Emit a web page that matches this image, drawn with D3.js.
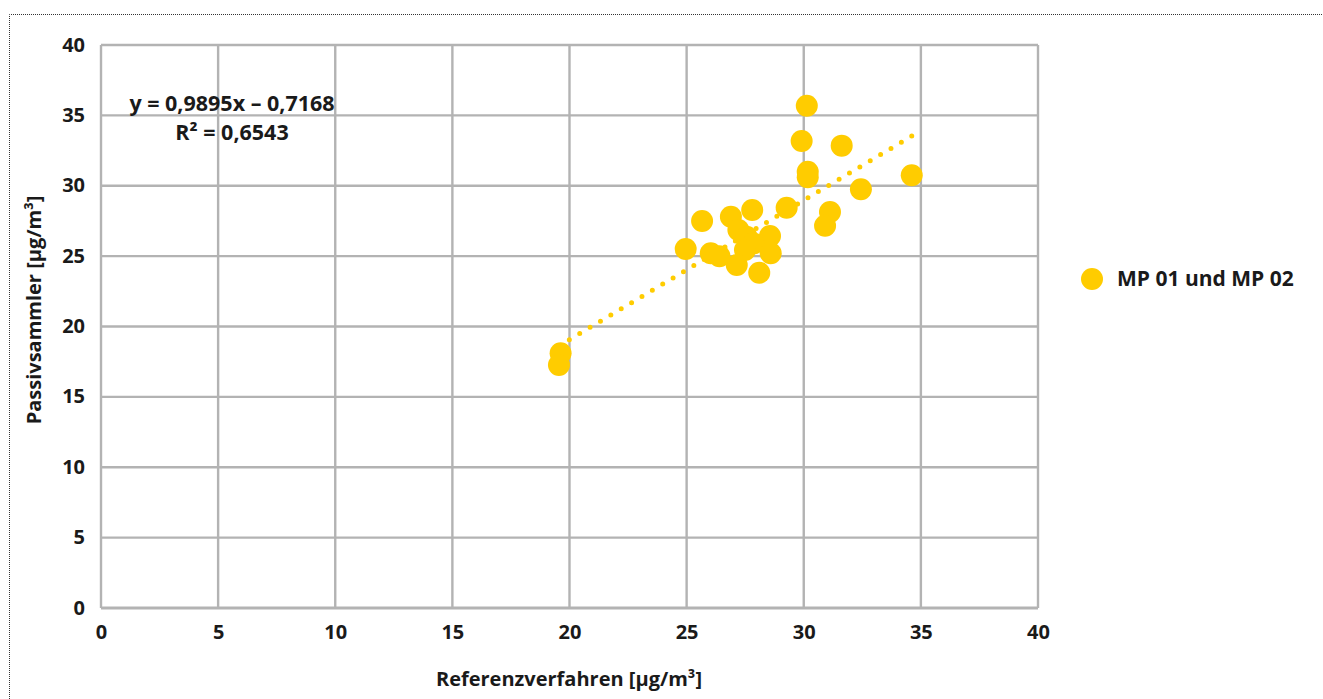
<!DOCTYPE html>
<html>
<head>
<meta charset="utf-8">
<script src="https://cdn.jsdelivr.net/npm/d3@7"></script>
<style>
  html, body { margin: 0; padding: 0; background: #fff; }
  svg { display: block; }
  text { font-family: "Open Sans", "Noto Sans", sans-serif; font-weight: 700; fill: #1a1a1a; }
</style>
</head>
<body>
<svg id="chart" width="1323" height="699"></svg>
<script>
// Reference method (x) vs. passive sampler (y), µg/m³
const referenzverfahren = [30.13, 29.91, 31.62, 30.17, 30.17, 34.61, 32.44, 29.27, 31.12, 30.91,
  27.80, 26.89, 25.66, 27.21, 28.56, 27.56, 27.85, 27.49, 27.14, 28.10, 28.59, 26.03, 26.40, 24.96,
  19.62, 19.55];
const passivsammler = [35.69, 33.18, 32.85, 31.00, 30.60, 30.74, 29.75, 28.44, 28.13, 27.16,
  28.28, 27.80, 27.50, 26.86, 26.43, 26.38, 25.90, 25.43, 24.37, 23.82, 25.20, 25.20, 25.00, 25.50,
  18.10, 17.26];
const xTicks = [0, 5, 10, 15, 20, 25, 30, 35, 40];
const yTicks = [0, 5, 10, 15, 20, 25, 30, 35, 40];
const trendSlope = 0.9895;
const trendIntercept = -0.7168;
const seriesName = "MP 01 und MP 02";
const equationLines = ["y = 0,9895x – 0,7168", "R² = 0,6543"];

const color = "#ffcc00";
const gridColor = "#b3b3b3";

const svg = d3.select("#chart");

// dotted frame around the chart
svg.append("path")
  .attr("d", "M9.5,699 V14.5 H1323")
  .attr("fill", "none")
  .attr("stroke", "#333")
  .attr("stroke-width", 1)
  .attr("stroke-dasharray", "1,1");

const x = d3.scaleLinear().domain([0, 40]).range([101, 1038]);
const y = d3.scaleLinear().domain([0, 40]).range([608, 45]);

// grid
const g = svg.append("g");
g.selectAll("line.v").data(xTicks).join("line")
  .attr("x1", d => x(d)).attr("x2", d => x(d))
  .attr("y1", y(40)).attr("y2", y(0))
  .attr("stroke", gridColor).attr("stroke-width", 2.4);
g.selectAll("line.h").data(yTicks).join("line")
  .attr("y1", d => y(d)).attr("y2", d => y(d))
  .attr("x1", x(0)).attr("x2", x(40))
  .attr("stroke", gridColor).attr("stroke-width", d => d === 0 ? 3 : 2.4);

// axes (labels only)
const xAxis = svg.append("g")
  .attr("transform", `translate(0,${y(0) + 9})`)
  .call(d3.axisBottom(x).tickValues(xTicks).tickSize(0).tickPadding(8));
const yAxis = svg.append("g")
  .attr("transform", `translate(${x(0) - 16},0)`)
  .call(d3.axisLeft(y).tickValues(yTicks).tickSize(0).tickPadding(0));
[xAxis, yAxis].forEach(a => {
  a.select(".domain").remove();
  a.selectAll("text").attr("font-size", 20).attr("fill", "#1a1a1a")
    .attr("font-family", "\"Open Sans\", sans-serif").attr("font-weight", 700);
});
yAxis.selectAll("text").attr("dy", "0.3em");

// trend line, drawn as round dots spaced to land on both ends
const x0 = d3.min(referenzverfahren), x1 = d3.max(referenzverfahren);
const px0 = x(x0), py0 = y(trendSlope * x0 + trendIntercept);
const px1 = x(x1), py1 = y(trendSlope * x1 + trendIntercept);
const len = Math.hypot(px1 - px0, py1 - py0);
const gap = len / Math.round(len / 12);
svg.append("line")
  .attr("x1", px0).attr("y1", py0)
  .attr("x2", px1).attr("y2", py1)
  .attr("stroke", color).attr("stroke-width", 5)
  .attr("stroke-linecap", "round")
  .attr("stroke-dasharray", `0,${gap}`);

// data points
svg.append("g").selectAll("circle")
  .data(referenzverfahren.map((v, i) => [v, passivsammler[i]]))
  .join("circle")
  .attr("cx", d => x(d[0])).attr("cy", d => y(d[1]))
  .attr("r", 11).attr("fill", color);

// regression label
const eq = svg.append("text").attr("font-size", 21.5).attr("text-anchor", "middle");
eq.append("tspan").attr("x", 232).attr("y", 111).text(equationLines[0]);
eq.append("tspan").attr("x", 232).attr("y", 140).text(equationLines[1]);

// axis titles
svg.append("text")
  .attr("x", 569).attr("y", 686)
  .attr("text-anchor", "middle").attr("font-size", 20)
  .text("Referenzverfahren [µg/m³]");
svg.append("text")
  .attr("transform", "translate(41,310) rotate(-90)")
  .attr("text-anchor", "middle").attr("font-size", 20)
  .text("Passivsammler [µg/m³]");

// legend
svg.append("circle").attr("cx", 1092).attr("cy", 279).attr("r", 11).attr("fill", color);
svg.append("text").attr("x", 1117).attr("y", 286).attr("font-size", 21).text(seriesName);
</script>
</body>
</html>
